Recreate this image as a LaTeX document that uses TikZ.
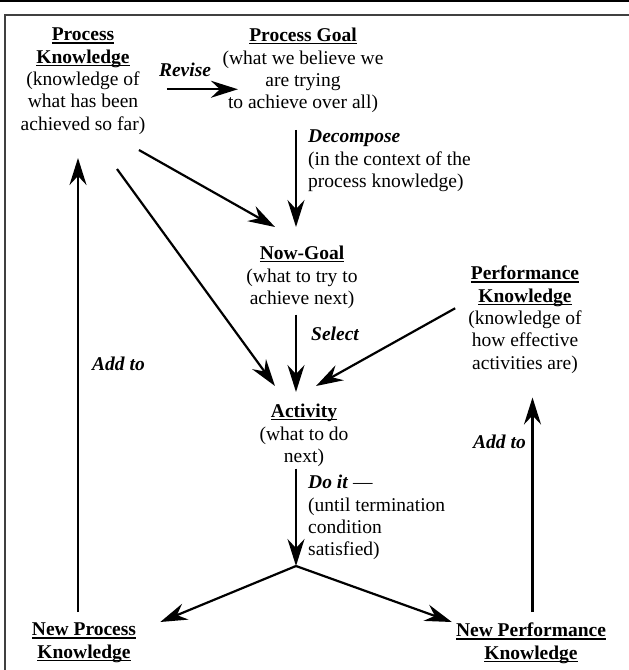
\documentclass[tikz,border=0pt]{standalone}
\usepackage{fontspec}
\setmainfont{Liberation Serif}
\usetikzlibrary{calc,arrows.meta}

% bold title with a close underline
\newcommand{\ttl}[1]{\setbox0\hbox{\bfseries #1}\rlap{\rule[-2.6pt]{\wd0}{1.2pt}}\box0}

\tikzset{
    txt/.style={inner sep=0pt, align=center, anchor=north, font=\fontsize{19.5}{22.3}\selectfont},
    lbl/.style={inner sep=0pt, align=left, anchor=north west, font=\fontsize{19.5}{22.3}\selectfont},
    arr/.style={line width=2.2pt, -{Stealth[length=27pt,width=17pt,inset=9pt]}},
}

\begin{document}
\begin{tikzpicture}[x=1pt,y=-1pt]
    \useasboundingbox (0,0) rectangle (629,670);

    % Frame
    \draw[line width=1.5pt] (0,0.75) -- (629,0.75);
    \draw[line width=1.8pt, black!75] (5,670) -- (5,15) -- (629,15);

    % Boxes of text
    \node[txt] (pk) at (83,28) {\ttl{Process}\\\ttl{Knowledge}\\(knowledge of\\what has been\\achieved so far)};
    \node[txt] (pg) at (303,28) {\ttl{Process Goal}\\(what we believe we\\are trying\\to achieve over all)};
    \node[txt] (ng) at (302,246) {\ttl{Now-Goal}\\(what to try to\\achieve next)};
    \node[txt] (act) at (304,404) {\ttl{Activity}\\(what to do\\next)};
    \node[txt] (perf) at (525,266) {\ttl{Performance}\\\ttl{Knowledge}\\(knowledge of\\how effective\\activities are)};
    \node[txt] (npk) at (84,623) {\ttl{New Process}\\\ttl{Knowledge}};
    \node[txt] (npf) at (531,623) {\ttl{New Performance}\\\ttl{Knowledge}};

    % Arrow labels
    \node[lbl, anchor=north] (revise) at (185,63) {\textbf{\textit{Revise}}};
    \node[lbl] (decomp) at (308,130) {\textbf{\textit{Decompose}}\\(in the context of the\\process knowledge)};
    \node[lbl] (select) at (311,327) {\textbf{\textit{Select}}};
    \node[lbl] (doit) at (308,475) {\textbf{\textit{Do it}} \textemdash\\(until termination\\condition\\satisfied)};
    \node[lbl] (addpk) at (92,357) {\textbf{\textit{Add to}}};
    \node[lbl] (addpf) at (473,435) {\textbf{\textit{Add to}}};

    % Arrows
    \coordinate (fork) at (296,566);
    \draw[arr, shorten >=6pt] ([shift={(21.5,8)}]pk.east) -- ([shift={(21.5,8)}]pk.east -| pg.west);
    \draw[arr] ([shift={(-7,17)}]pg.south) -- ([shift={(-6,-19)}]ng.north);
    \draw[arr] ([shift={(-6.5,15.5)}]pk.south east) -- ([shift={(-27,-19)}]ng.north);
    \draw[arr] ([shift={(34,34.5)}]pk.south) -- ([shift={(-29,-18)}]act.north);
    \draw[arr] ([shift={(-6,6)}]ng.south) -- ([shift={(-8,-12)}]act.north);
    \draw[arr] ([shift={(-13,-11.5)}]perf.west) -- ([shift={(12,-18)}]act.north);
    \draw[arr] ([shift={(-8,2)}]act.south) -- (fork);
    \draw[arr] (fork) -- ([shift={(24,-1)}]npk.north east);
    \draw[arr] (fork) -- ([shift={(-4,-1)}]npf.north west);
    \draw[arr] ([shift={(-6,-11)}]npk.north) -- ([shift={(-5,23.5)}]pk.south);
    \draw[arr] ([shift={(1.5,-11)}]npf.north) -- ([shift={(7.5,24)}]perf.south);
\end{tikzpicture}
\end{document}
